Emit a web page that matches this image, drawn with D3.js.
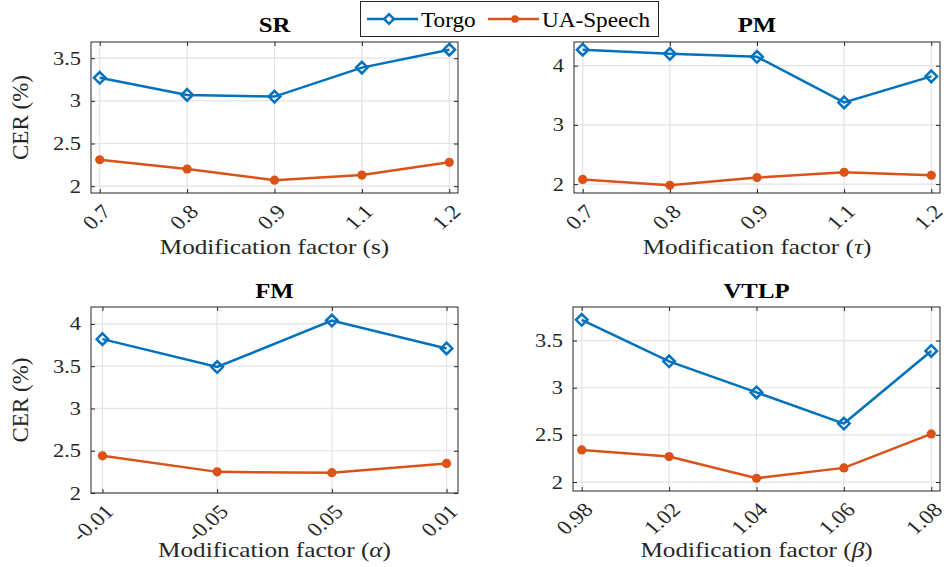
<!DOCTYPE html>
<html>
<head>
<meta charset="utf-8">
<script src="https://cdn.jsdelivr.net/npm/d3@7"></script>
<style>
  html, body { margin: 0; padding: 0; background: #fff; }
  svg { display: block; }
  svg text { font-family: "Liberation Serif", "Times New Roman", serif; }
</style>
</head>
<body>
<div id="chart"></div>
<script>
// Data (CER %, per modification factor)
var srFactors = ["0.7", "0.8", "0.9", "1.1", "1.2"];
var srTorgo = [3.27, 3.07, 3.05, 3.39, 3.60];
var srUA = [2.31, 2.20, 2.07, 2.13, 2.28];
var srTicks = [2, 2.5, 3, 3.5];

var pmFactors = ["0.7", "0.8", "0.9", "1.1", "1.2"];
var pmTorgo = [4.27, 4.20, 4.15, 3.38, 3.82];
var pmUA = [2.08, 1.98, 2.11, 2.20, 2.15];
var pmTicks = [2, 3, 4];

var fmFactors = ["-0.01", "-0.05", "0.05", "0.01"];
var fmTorgo = [3.82, 3.49, 4.04, 3.71];
var fmUA = [2.44, 2.25, 2.24, 2.35];
var fmTicks = [2, 2.5, 3, 3.5, 4];

var vtlpFactors = ["0.98", "1.02", "1.04", "1.06", "1.08"];
var vtlpTorgo = [3.72, 3.28, 2.95, 2.62, 3.39];
var vtlpUA = [2.34, 2.27, 2.04, 2.15, 2.51];
var vtlpTicks = [2, 2.5, 3, 3.5];

var seriesNames = ["Torgo", "UA-Speech"];

(function () {
  var W = 948, H = 567;
  var blue = "#0072BD", orange = "#D95319";
  var axisColor = "#262626", gridColor = "#e3e3e3";
  var SX = 1.18; // the source figure is stretched horizontally

  // widen a text horizontally around its own anchor point
  function stretch(sel, sx) {
    sel.each(function () {
      var t = d3.select(this);
      var x = +t.attr("x") || 0, y = +t.attr("y") || 0;
      t.attr("transform", "translate(" + x + "," + y + ") scale(" + sx + ",1) translate(" + (-x) + "," + (-y) + ")");
    });
  }

  var svg = d3.select("#chart").append("svg").attr("width", W).attr("height", H);

  // panel layout: box in pixels + y limits
  var panels = [
    { title: "SR", sym: "s", italic: false, cats: srFactors, torgo: srTorgo, ua: srUA, ticks: srTicks,
      x0: 91, x1: 458, y0: 42, y1: 193, ylim: [1.92, 3.69], ylab: true, titleY: 32, xlabY: 254 },
    { title: "PM", sym: "\u03C4", italic: true, cats: pmFactors, torgo: pmTorgo, ua: pmUA, ticks: pmTicks,
      x0: 574, x1: 940, y0: 42, y1: 193, ylim: [1.85, 4.40], ylab: false, titleY: 32, xlabY: 254 },
    { title: "FM", sym: "\u03B1", italic: true, cats: fmFactors, torgo: fmTorgo, ua: fmUA, ticks: fmTicks,
      x0: 91, x1: 458, y0: 307, y1: 493, ylim: [2, 4.2], ylab: true, titleY: 298, xlabY: 557 },
    { title: "VTLP", sym: "\u03B2", italic: true, cats: vtlpFactors, torgo: vtlpTorgo, ua: vtlpUA, ticks: vtlpTicks,
      x0: 573, x1: 940, y0: 307, y1: 491, ylim: [1.905, 3.856], ylab: false, titleY: 298, xlabY: 557 }
  ];

  panels.forEach(function (p) {
    var n = p.cats.length;
    var x = d3.scaleLinear().domain([-0.1, n - 0.9]).range([p.x0, p.x1]);
    var y = d3.scaleLinear().domain(p.ylim).range([p.y1, p.y0]);
    var g = svg.append("g");

    // grid
    g.selectAll(".gx").data(p.cats).enter().append("line")
      .attr("x1", function (d, i) { return x(i); }).attr("x2", function (d, i) { return x(i); })
      .attr("y1", p.y0).attr("y2", p.y1).attr("stroke", gridColor).attr("stroke-width", 1.2);
    g.selectAll(".gy").data(p.ticks).enter().append("line")
      .attr("x1", p.x0).attr("x2", p.x1)
      .attr("y1", function (d) { return y(d); }).attr("y2", function (d) { return y(d); })
      .attr("stroke", gridColor).attr("stroke-width", 1.2);

    // y axis (ticks inward), mirrored on right
    var yAxis = d3.axisLeft(y).tickValues(p.ticks).tickSizeInner(-4).tickSizeOuter(0).tickPadding(10)
      .tickFormat(d3.format("~g"));
    var ya = g.append("g").attr("transform", "translate(" + p.x0 + ",0)").call(yAxis)
      .attr("font-family", null).attr("font-size", null);
    ya.select(".domain").remove();
    ya.selectAll("line").attr("stroke", axisColor);
    ya.selectAll("text").attr("fill", axisColor).attr("font-size", "19px").call(stretch, SX);
    var yr = g.append("g").attr("transform", "translate(" + p.x1 + ",0)")
      .call(d3.axisRight(y).tickValues(p.ticks).tickSizeInner(-4).tickSizeOuter(0).tickFormat(""));
    yr.select(".domain").remove();
    yr.selectAll("line").attr("stroke", axisColor);

    // x axis, rotated labels
    var xAxis = d3.axisBottom(x).tickValues(d3.range(n)).tickSizeInner(-4).tickSizeOuter(0)
      .tickFormat(function (i) { return p.cats[i]; });
    var xa = g.append("g").attr("transform", "translate(0," + p.y1 + ")").call(xAxis)
      .attr("font-family", null).attr("font-size", null);
    xa.select(".domain").remove();
    xa.selectAll("line").attr("stroke", axisColor);
    xa.selectAll("text").attr("fill", axisColor).attr("font-size", "20px")
      .attr("text-anchor", "end").attr("dy", null).attr("y", 0)
      .attr("transform", "translate(12,20) scale(1.15,1) rotate(-45)");
    var xt = g.append("g").attr("transform", "translate(0," + p.y0 + ")")
      .call(d3.axisTop(x).tickValues(d3.range(n)).tickSizeInner(-4).tickSizeOuter(0).tickFormat(""));
    xt.select(".domain").remove();
    xt.selectAll("line").attr("stroke", axisColor);

    // box
    g.append("rect").attr("x", p.x0).attr("y", p.y0)
      .attr("width", p.x1 - p.x0).attr("height", p.y1 - p.y0)
      .attr("fill", "none").attr("stroke", axisColor).attr("stroke-width", 1);

    // lines
    var line = d3.line().x(function (d, i) { return x(i); }).y(function (d) { return y(d); });
    g.append("path").datum(p.ua).attr("d", line).attr("fill", "none")
      .attr("stroke", orange).attr("stroke-width", 2.5);
    g.selectAll(".ua").data(p.ua).enter().append("circle")
      .attr("cx", function (d, i) { return x(i); }).attr("cy", function (d) { return y(d); })
      .attr("r", 4.6).attr("fill", orange);
    g.append("path").datum(p.torgo).attr("d", line).attr("fill", "none")
      .attr("stroke", blue).attr("stroke-width", 2.5);
    var dia = d3.symbol().type(d3.symbolDiamond2).size(85);
    g.selectAll(".tg").data(p.torgo).enter().append("path")
      .attr("d", dia)
      .attr("transform", function (d, i) { return "translate(" + x(i) + "," + y(d) + ")"; })
      .attr("fill", "none").attr("stroke", blue).attr("stroke-width", 2.5);

    // title
    g.append("text").attr("x", (p.x0 + p.x1) / 2).attr("y", p.titleY)
      .attr("text-anchor", "middle").attr("font-size", "21px").attr("font-weight", "bold")
      .attr("fill", "#000").text(p.title).call(stretch, SX);

    // x label
    var xl = g.append("text").attr("x", (p.x0 + p.x1) / 2).attr("y", p.xlabY)
      .attr("text-anchor", "middle").attr("font-size", "21px").attr("fill", axisColor);
    xl.append("tspan").text("Modification factor (");
    xl.append("tspan").attr("font-style", p.italic ? "italic" : "normal").text(p.sym);
    xl.append("tspan").text(")");
    xl.call(stretch, 1.2);

    if (p.ylab) {
      g.append("text").attr("transform", "translate(28," + ((p.y0 + p.y1) / 2) + ") rotate(-90)")
        .attr("text-anchor", "middle").attr("font-size", "23px").attr("fill", axisColor)
        .text("CER (%)");
    }
  });

  // legend
  var lg = svg.append("g");
  lg.append("rect").attr("x", 360.5).attr("y", 1.5).attr("width", 298).attr("height", 35)
    .attr("fill", "#fff").attr("stroke", axisColor).attr("stroke-width", 1);
  var colors = [blue, orange];
  var lx = [367, 488];
  seriesNames.forEach(function (name, i) {
    var c = colors[i];
    lg.append("line").attr("x1", lx[i]).attr("x2", lx[i] + 51).attr("y1", 19).attr("y2", 19)
      .attr("stroke", c).attr("stroke-width", 2.5);
    if (i === 0) {
      lg.append("path").attr("d", d3.symbol().type(d3.symbolDiamond2).size(60))
        .attr("transform", "translate(" + (lx[i] + 22) + ",19)")
        .attr("fill", "#fff").attr("stroke", c).attr("stroke-width", 2.5);
    } else {
      lg.append("circle").attr("cx", lx[i] + 27).attr("cy", 19).attr("r", 3.8).attr("fill", c);
    }
    lg.append("text").attr("x", lx[i] + 54).attr("y", 27).attr("font-size", "20px")
      .attr("fill", "#000").text(name).call(stretch, 1.16);
  });
})();
</script>
</body>
</html>
